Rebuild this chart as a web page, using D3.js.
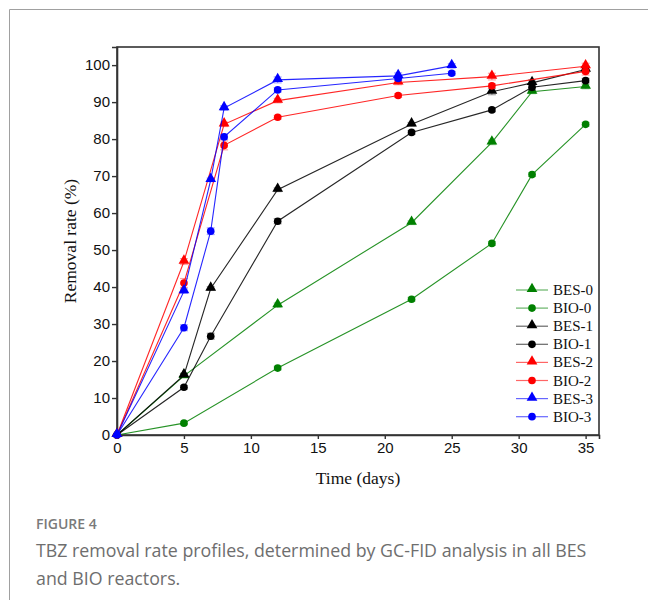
<!DOCTYPE html>
<html><head><meta charset="utf-8">
<script src="https://cdn.jsdelivr.net/npm/d3@7/dist/d3.min.js"></script>
<style>
html,body{margin:0;padding:0;background:#fff;}
svg{display:block;}
</style></head>
<body>
<svg id="chart" width="648" height="600"></svg>
<script>
// ---- data ----
const seriesNames = ["BES-0","BIO-0","BES-1","BIO-1","BES-2","BIO-2","BES-3","BIO-3"];
const seriesColors = ["#008000","#008000","#000000","#000000","#ff0000","#ff0000","#0000ff","#0000ff"];
const seriesSymbols = ["triangle","circle","triangle","circle","triangle","circle","triangle","circle"];

const daysBES0 = [0,5,12,22,28,31,35];
const valsBES0 = [0,16.0,35.1,57.4,79.1,92.8,94.2];
const daysBIO0 = [0,5,12,22,28,31,35];
const valsBIO0 = [0,3.2,18.1,36.7,51.8,70.4,84.0];
const daysBES1 = [0,5,7,12,22,28,31,35];
const valsBES1 = [0,16.2,39.6,66.3,84.0,92.8,95.2,98.8];
const daysBIO1 = [0,5,7,12,22,28,31,35];
const valsBIO1 = [0,12.9,26.7,57.8,81.8,87.9,94.0,95.8];
const daysBES2 = [0,5,8,12,21,28,35];
const valsBES2 = [0,46.9,84.0,90.4,95.3,96.9,99.7];
const daysBIO2 = [0,5,8,12,21,28,35];
const valsBIO2 = [0,41.1,78.3,85.9,91.8,94.4,98.3];
const daysBES3 = [0,5,7,8,12,21,25];
const valsBES3 = [0,38.9,69.0,88.4,96.0,97.1,99.8];
const daysBIO3 = [0,5,7,8,12,21,25];
const valsBIO3 = [0,29.0,55.1,80.6,93.3,96.4,97.8];
const errBES0 = [0,0.6,0.6,0.5,0.6,0.5,0.6];
const errBIO0 = [0,0.4,0.5,0.5,0.5,0.5,0.5];
const errBES1 = [0,0.5,0.5,0.5,0.5,0.8,0.8,0.8];
const errBIO1 = [0,0.5,0.8,0.7,0.5,0.5,0.8,0.6];
const errBES2 = [0,0.8,0.6,0.6,0.6,0.9,0.8];
const errBIO2 = [0,1.2,1.2,0.5,0.5,0.6,1.0];
const errBES3 = [0,0.6,0.5,0.6,0.8,0.8,0.6];
const errBIO3 = [0,0.8,0.9,0.7,0.6,0.5,0.5];

const xTicks = [0,5,10,15,20,25,30,35];
const yTicks = [0,10,20,30,40,50,60,70,80,90,100];
const xTitle = "Time (days)";
const yTitle = "Removal rate (%)";
const figLabel = "FIGURE 4";
const captionLines = ["TBZ removal rate profiles, determined by GC-FID analysis in all BES","and BIO reactors."];

const allDays = [daysBES0,daysBIO0,daysBES1,daysBIO1,daysBES2,daysBIO2,daysBES3,daysBIO3];
const allVals = [valsBES0,valsBIO0,valsBES1,valsBIO1,valsBES2,valsBIO2,valsBES3,valsBIO3];
const allErr = [errBES0,errBIO0,errBES1,errBIO1,errBES2,errBIO2,errBES3,errBIO3];

const series = seriesNames.map((name,i)=>({
  name, color: seriesColors[i], symbol: seriesSymbols[i],
  points: allDays[i].map((d,j)=>({x:d, y:allVals[i][j], e:allErr[i][j]}))
}));

// ---- layout ----
const svg = d3.select("#chart");
const L = 117, R = 599, T = 47, B = 435;
const x = d3.scaleLinear().domain([0,36]).range([L,R]);
const y = d3.scaleLinear().domain([0,104.9]).range([B,T]);

// outer card border
svg.append("path").attr("d","M9.5,600 L9.5,9.5 L648,9.5")
  .attr("fill","none").attr("stroke","#a0a0a0").attr("stroke-width",1);

// frame
svg.append("rect").attr("x",L).attr("y",T).attr("width",R-L).attr("height",B-T)
  .attr("fill","none").attr("stroke","#333").attr("stroke-width",1.6);

// axes
const xAxis = svg.append("g").attr("transform",`translate(0,${B})`)
  .call(d3.axisBottom(x).tickValues(xTicks).tickSize(4).tickPadding(3).tickFormat(d3.format("d")));
const yAxis = svg.append("g").attr("transform",`translate(${L},0)`)
  .call(d3.axisLeft(y).tickValues(yTicks).tickSize(5).tickPadding(2).tickFormat(d3.format("d")));
[xAxis,yAxis].forEach(g=>{
  g.select(".domain").attr("stroke","#333").attr("stroke-width",1.6);
  g.selectAll(".tick line").attr("stroke","#333").attr("stroke-width",1.4);
  g.selectAll(".tick text").attr("fill","#111")
    .style("font-family","'Liberation Sans', Arial, sans-serif").style("font-size","15px");
});

// titles
svg.append("text").attr("x",(L+R)/2).attr("y",484).attr("text-anchor","middle")
  .style("font-family","'Liberation Serif','Times New Roman',serif").style("font-size","17.5px")
  .attr("fill","#111").text(xTitle);
svg.append("text").attr("transform",`translate(76,${(T+B)/2}) rotate(-90)`).attr("text-anchor","middle")
  .style("font-family","'Liberation Serif','Times New Roman',serif").style("font-size","17.5px")
  .attr("fill","#111").text(yTitle);

// series
const line = d3.line().x(d=>x(d.x)).y(d=>y(d.y));
const tri = d3.symbol().type(d3.symbolTriangle).size(50);
const circ = d3.symbol().type(d3.symbolCircle).size(46);

const plot = svg.append("g");
series.forEach(s=>{
  const g = plot.append("g");
  g.append("path").datum(s.points).attr("d",line)
    .attr("fill","none").attr("stroke",s.color).attr("stroke-width",1.1).attr("stroke-opacity",0.85);
  const eb = g.selectAll(".eb").data(s.points.filter(p=>p.e>0)).enter().append("g")
    .attr("stroke",s.color).attr("stroke-opacity",0.35).attr("stroke-width",1.2);
  eb.append("line").attr("x1",d=>x(d.x)).attr("x2",d=>x(d.x)).attr("y1",d=>y(d.y-d.e)).attr("y2",d=>y(d.y+d.e));
  eb.append("line").attr("x1",d=>x(d.x)-4).attr("x2",d=>x(d.x)+4).attr("y1",d=>y(d.y+d.e)).attr("y2",d=>y(d.y+d.e));
  eb.append("line").attr("x1",d=>x(d.x)-4).attr("x2",d=>x(d.x)+4).attr("y1",d=>y(d.y-d.e)).attr("y2",d=>y(d.y-d.e));
  g.selectAll(".m").data(s.points).enter().append("path")
    .attr("d", s.symbol==="triangle"?tri:circ)
    .attr("transform",d=>`translate(${x(d.x)},${y(d.y) + (s.symbol==="triangle"?-1:0)})`)
    .attr("fill",s.color);
});

// legend
const leg = svg.append("g");
series.forEach((s,i)=>{
  const yy = 290 + i*18.1;
  const g = leg.append("g").attr("transform",`translate(0,${yy})`);
  g.append("line").attr("x1",516).attr("x2",548).attr("y1",0).attr("y2",0)
    .attr("stroke",s.color).attr("stroke-width",1.2).attr("stroke-opacity",0.6);
  g.append("path").attr("d", s.symbol==="triangle"?tri:circ)
    .attr("transform",`translate(532,${s.symbol==="triangle"?-1:0})`).attr("fill",s.color);
  g.append("text").attr("x",553).attr("y",5)
    .style("font-family","'Liberation Serif','Times New Roman',serif").style("font-size","15px")
    .attr("fill","#111").text(s.name);
});

// caption
svg.append("text").attr("x",36).attr("y",529).attr("fill","#7a7a7a")
  .style("font-family","'Open Sans', sans-serif").style("font-size","14px").style("font-weight","600")
  .text(figLabel);
captionLines.forEach((t,i)=>{
  svg.append("text").attr("x",36).attr("y",557+i*28).attr("fill","#6e6e6e")
    .style("font-family","'Open Sans', sans-serif").style("font-size","17.8px").style("font-weight","400")
    .text(t);
});
</script>
</body></html>
